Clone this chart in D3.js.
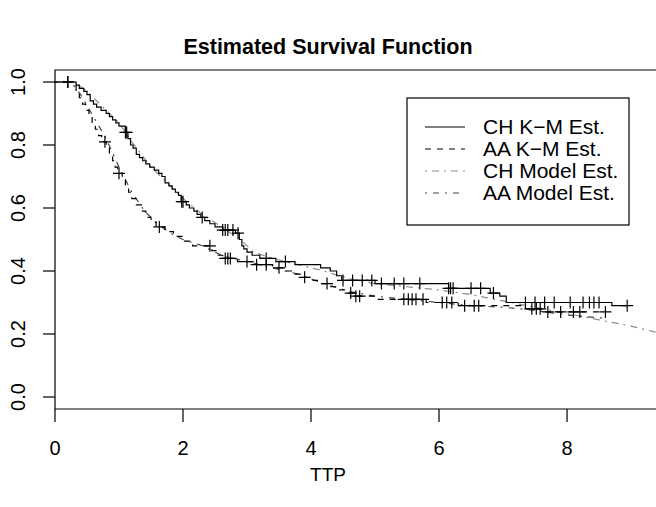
<!DOCTYPE html>
<html lang="en">
<head>
<meta charset="utf-8">
<title>Estimated Survival Function</title>
<script src="https://d3js.org/d3.v7.min.js"></script>
<style>
  body { margin: 0; background: #fff; }
  text { font-family: "Liberation Sans", Arial, sans-serif; fill: #000; }
</style>
</head>
<body>
<svg id="chart" width="656" height="507"></svg>
<script>
// K-M step points: time of drop, survival after drop
var chTime = [0.33,0.38,0.45,0.5,0.55,0.6,0.65,0.72,0.8,0.85,0.9,0.95,1.0,1.1,1.14,1.18,1.22,1.27,1.32,1.37,
  1.42,1.48,1.55,1.62,1.67,1.72,1.78,1.83,1.88,1.93,1.97,2.05,2.1,2.17,2.22,2.28,2.34,2.42,2.5,2.62,
  2.82,2.88,2.92,2.95,3.0,3.08,3.2,3.45,3.75,4.15,4.3,4.4,4.48,5.0,6.15,6.8,6.95,7.05,8.7];
var chSurv = [0.99,0.98,0.97,0.96,0.94,0.93,0.92,0.91,0.90,0.89,0.88,0.87,0.86,0.84,0.82,0.80,0.79,0.77,0.76,0.75,
  0.74,0.73,0.72,0.71,0.70,0.68,0.67,0.66,0.65,0.64,0.62,0.61,0.60,0.59,0.58,0.57,0.56,0.55,0.54,0.53,
  0.52,0.50,0.48,0.47,0.46,0.45,0.44,0.43,0.42,0.41,0.40,0.385,0.37,0.36,0.345,0.33,0.32,0.30,0.29];
var chEnd = 8.94;
var chCensor = [0.2,1.1,1.12,1.98,2.0,2.3,2.62,2.66,2.7,2.78,2.86,3.3,3.6,4.5,4.65,4.8,4.95,5.1,5.3,5.45,5.7,
  6.15,6.18,6.22,6.5,6.65,6.85,7.35,7.5,7.65,7.8,8.05,8.25,8.35,8.42,8.5,8.94];

var aaTime = [0.28,0.33,0.38,0.43,0.48,0.53,0.58,0.63,0.68,0.73,0.8,0.85,0.9,0.94,0.98,1.05,1.1,1.15,1.2,1.27,
  1.35,1.42,1.5,1.58,1.72,1.85,2.0,2.15,2.45,2.55,2.62,2.85,3.1,3.4,3.6,3.75,3.85,4.0,4.1,4.3,
  4.4,4.55,4.68,5.0,5.8,6.3,7.3,7.6];
var aaSurv = [0.99,0.97,0.95,0.93,0.91,0.89,0.87,0.85,0.83,0.81,0.79,0.77,0.75,0.73,0.71,0.69,0.67,0.65,0.63,0.61,
  0.59,0.57,0.555,0.54,0.525,0.51,0.495,0.48,0.465,0.45,0.44,0.43,0.42,0.41,0.40,0.39,0.38,0.37,0.36,0.35,
  0.34,0.33,0.32,0.31,0.30,0.29,0.28,0.27];
var aaEnd = 8.6;
var aaCensor = [0.2,0.78,1.0,1.63,2.42,2.66,2.7,2.74,3.0,3.15,3.3,3.5,3.9,4.25,4.62,4.7,4.76,5.45,5.52,5.58,5.64,5.75,
  6.05,6.12,6.2,6.4,6.55,6.62,7.45,7.52,7.58,7.7,7.9,8.1,8.2,8.6];

// model estimates
var chModelTime = [0,0.3,0.5,0.8,1.0,1.2,1.5,1.8,2.0,2.3,2.6,2.9,3.1,3.4,3.8,4.2,4.6,5.0,5.5,6.0,6.5,7.0,7.5,8.0,8.5,9.0,9.5];
var chModelSurv = [1,1,0.97,0.91,0.87,0.81,0.73,0.67,0.63,0.58,0.54,0.50,0.46,0.44,0.42,0.40,0.375,0.36,0.35,0.34,0.325,0.305,0.285,0.265,0.245,0.225,0.20];
var aaModelTime = [0,0.25,0.4,0.6,0.8,1.0,1.2,1.4,1.6,1.8,2.0,2.3,2.6,3.0,3.4,3.8,4.2,4.6,5.0,5.5,6.0,6.5,7.0,7.5,8.0,8.6];
var aaModelSurv = [1,1,0.96,0.89,0.82,0.73,0.65,0.59,0.55,0.52,0.50,0.48,0.45,0.43,0.41,0.39,0.36,0.335,0.32,0.31,0.30,0.29,0.285,0.275,0.26,0.25];

var xTicks = [0, 2, 4, 6, 8];
var yTicks = [0.0, 0.2, 0.4, 0.6, 0.8, 1.0];
var legendLabels = ["CH K\u2212M Est.", "AA K\u2212M Est.", "CH Model Est.", "AA Model Est."];

var svg = d3.select("#chart");
var box = { left: 55, right: 700, top: 70, bottom: 409 };

var x = d3.scaleLinear().domain([0, 9.39]).range([55, 656]);
var y = d3.scaleLinear().domain([0, 1]).range([397, 82]);

svg.append("clipPath").attr("id", "plotclip")
  .append("rect")
  .attr("x", box.left).attr("y", box.top)
  .attr("width", box.right - box.left).attr("height", box.bottom - box.top);

// step data
function kmPoints(times, surv, end) {
  var pts = [[0, 1]];
  times.forEach(function(t, i) { pts.push([t, surv[i]]); });
  pts.push([end, surv[surv.length - 1]]);
  return pts;
}
function kmAt(times, surv, t) {
  var s = 1;
  for (var i = 0; i < times.length; i++) { if (times[i] <= t) s = surv[i]; }
  return s;
}

var stepLine = d3.line()
  .x(function(d) { return x(d[0]); })
  .y(function(d) { return y(d[1]); })
  .curve(d3.curveStepAfter);
var smoothLine = d3.line()
  .x(function(d) { return x(d[0]); })
  .y(function(d) { return y(d[1]); });

var g = svg.append("g").attr("clip-path", "url(#plotclip)");

// model curves
g.append("path")
  .datum(chModelTime.map(function(t, i) { return [t, chModelSurv[i]]; }))
  .attr("d", smoothLine)
  .attr("fill", "none").attr("stroke", "#8c8c8c").attr("stroke-width", 1.2)
  .attr("stroke-dasharray", "2,5,7,5");
g.append("path")
  .datum(aaModelTime.map(function(t, i) { return [t, aaModelSurv[i]]; }))
  .attr("d", smoothLine)
  .attr("fill", "none").attr("stroke", "#444").attr("stroke-width", 1.2)
  .attr("stroke-dasharray", "2,6,6,6");

// K-M curves
g.append("path")
  .datum(kmPoints(chTime, chSurv, chEnd))
  .attr("d", stepLine)
  .attr("fill", "none").attr("stroke", "#000").attr("stroke-width", 1.2);
g.append("path")
  .datum(kmPoints(aaTime, aaSurv, aaEnd))
  .attr("d", stepLine)
  .attr("fill", "none").attr("stroke", "#000").attr("stroke-width", 1.2)
  .attr("stroke-dasharray", "6,6");

// censoring marks
function plus(sel, times, surv, cens) {
  sel.selectAll(null)
    .data(cens)
    .enter()
    .append("path")
    .attr("d", function(t) {
      var cx = x(t), cy = y(kmAt(times, surv, t));
      return "M" + (cx - 6) + "," + cy + "H" + (cx + 6) + "M" + cx + "," + (cy - 6) + "V" + (cy + 6);
    })
    .attr("stroke", "#000").attr("stroke-width", 1.2).attr("fill", "none");
}
plus(g.append("g"), chTime, chSurv, chCensor);
plus(g.append("g"), aaTime, aaSurv, aaCensor);

// box (left, top, bottom; right side is off the picture)
svg.append("path")
  .attr("d", "M656," + box.top + "H" + box.left + "V" + box.bottom + "H656")
  .attr("fill", "none").attr("stroke", "#000").attr("stroke-width", 1.2);

// axes
var xAxis = svg.append("g");
xTicks.forEach(function(t) {
  xAxis.append("line")
    .attr("x1", x(t)).attr("x2", x(t))
    .attr("y1", box.bottom).attr("y2", box.bottom + 13)
    .attr("stroke", "#000").attr("stroke-width", 1.2);
  xAxis.append("text")
    .attr("x", x(t)).attr("y", 455)
    .attr("text-anchor", "middle")
    .attr("font-size", 20)
    .text(t);
});

var yAxis = svg.append("g");
yTicks.forEach(function(v) {
  yAxis.append("line")
    .attr("x1", box.left - 12).attr("x2", box.left)
    .attr("y1", y(v)).attr("y2", y(v))
    .attr("stroke", "#000").attr("stroke-width", 1.2);
  yAxis.append("text")
    .attr("transform", "translate(25," + y(v) + ") rotate(-90)")
    .attr("text-anchor", "middle")
    .attr("font-size", 20)
    .text(v.toFixed(1));
});

svg.append("text")
  .attr("x", 328).attr("y", 54)
  .attr("text-anchor", "middle")
  .attr("font-size", 21.5)
  .attr("font-weight", "bold")
  .text("Estimated Survival Function");

svg.append("text")
  .attr("x", 328).attr("y", 481)
  .attr("text-anchor", "middle")
  .attr("font-size", 19)
  .text("TTP");

// legend
var legend = svg.append("g");
legend.append("rect")
  .attr("x", 407).attr("y", 98).attr("width", 222).attr("height", 127)
  .attr("fill", "#fff").attr("stroke", "#000").attr("stroke-width", 1.2);
var legendStyle = [
  { color: "#000", dash: null },
  { color: "#000", dash: "6,6" },
  { color: "#8c8c8c", dash: "2,5,7,5" },
  { color: "#444", dash: "2,6,6,6" }
];
legendLabels.forEach(function(lab, i) {
  var ly = 127 + i * 22;
  legend.append("line")
    .attr("x1", 425).attr("x2", 465).attr("y1", ly).attr("y2", ly)
    .attr("stroke", legendStyle[i].color).attr("stroke-width", 1.2)
    .attr("stroke-dasharray", legendStyle[i].dash);
  legend.append("text")
    .attr("x", 483).attr("y", ly + 7)
    .attr("font-size", 21)
    .text(lab);
});
</script>
</body>
</html>
